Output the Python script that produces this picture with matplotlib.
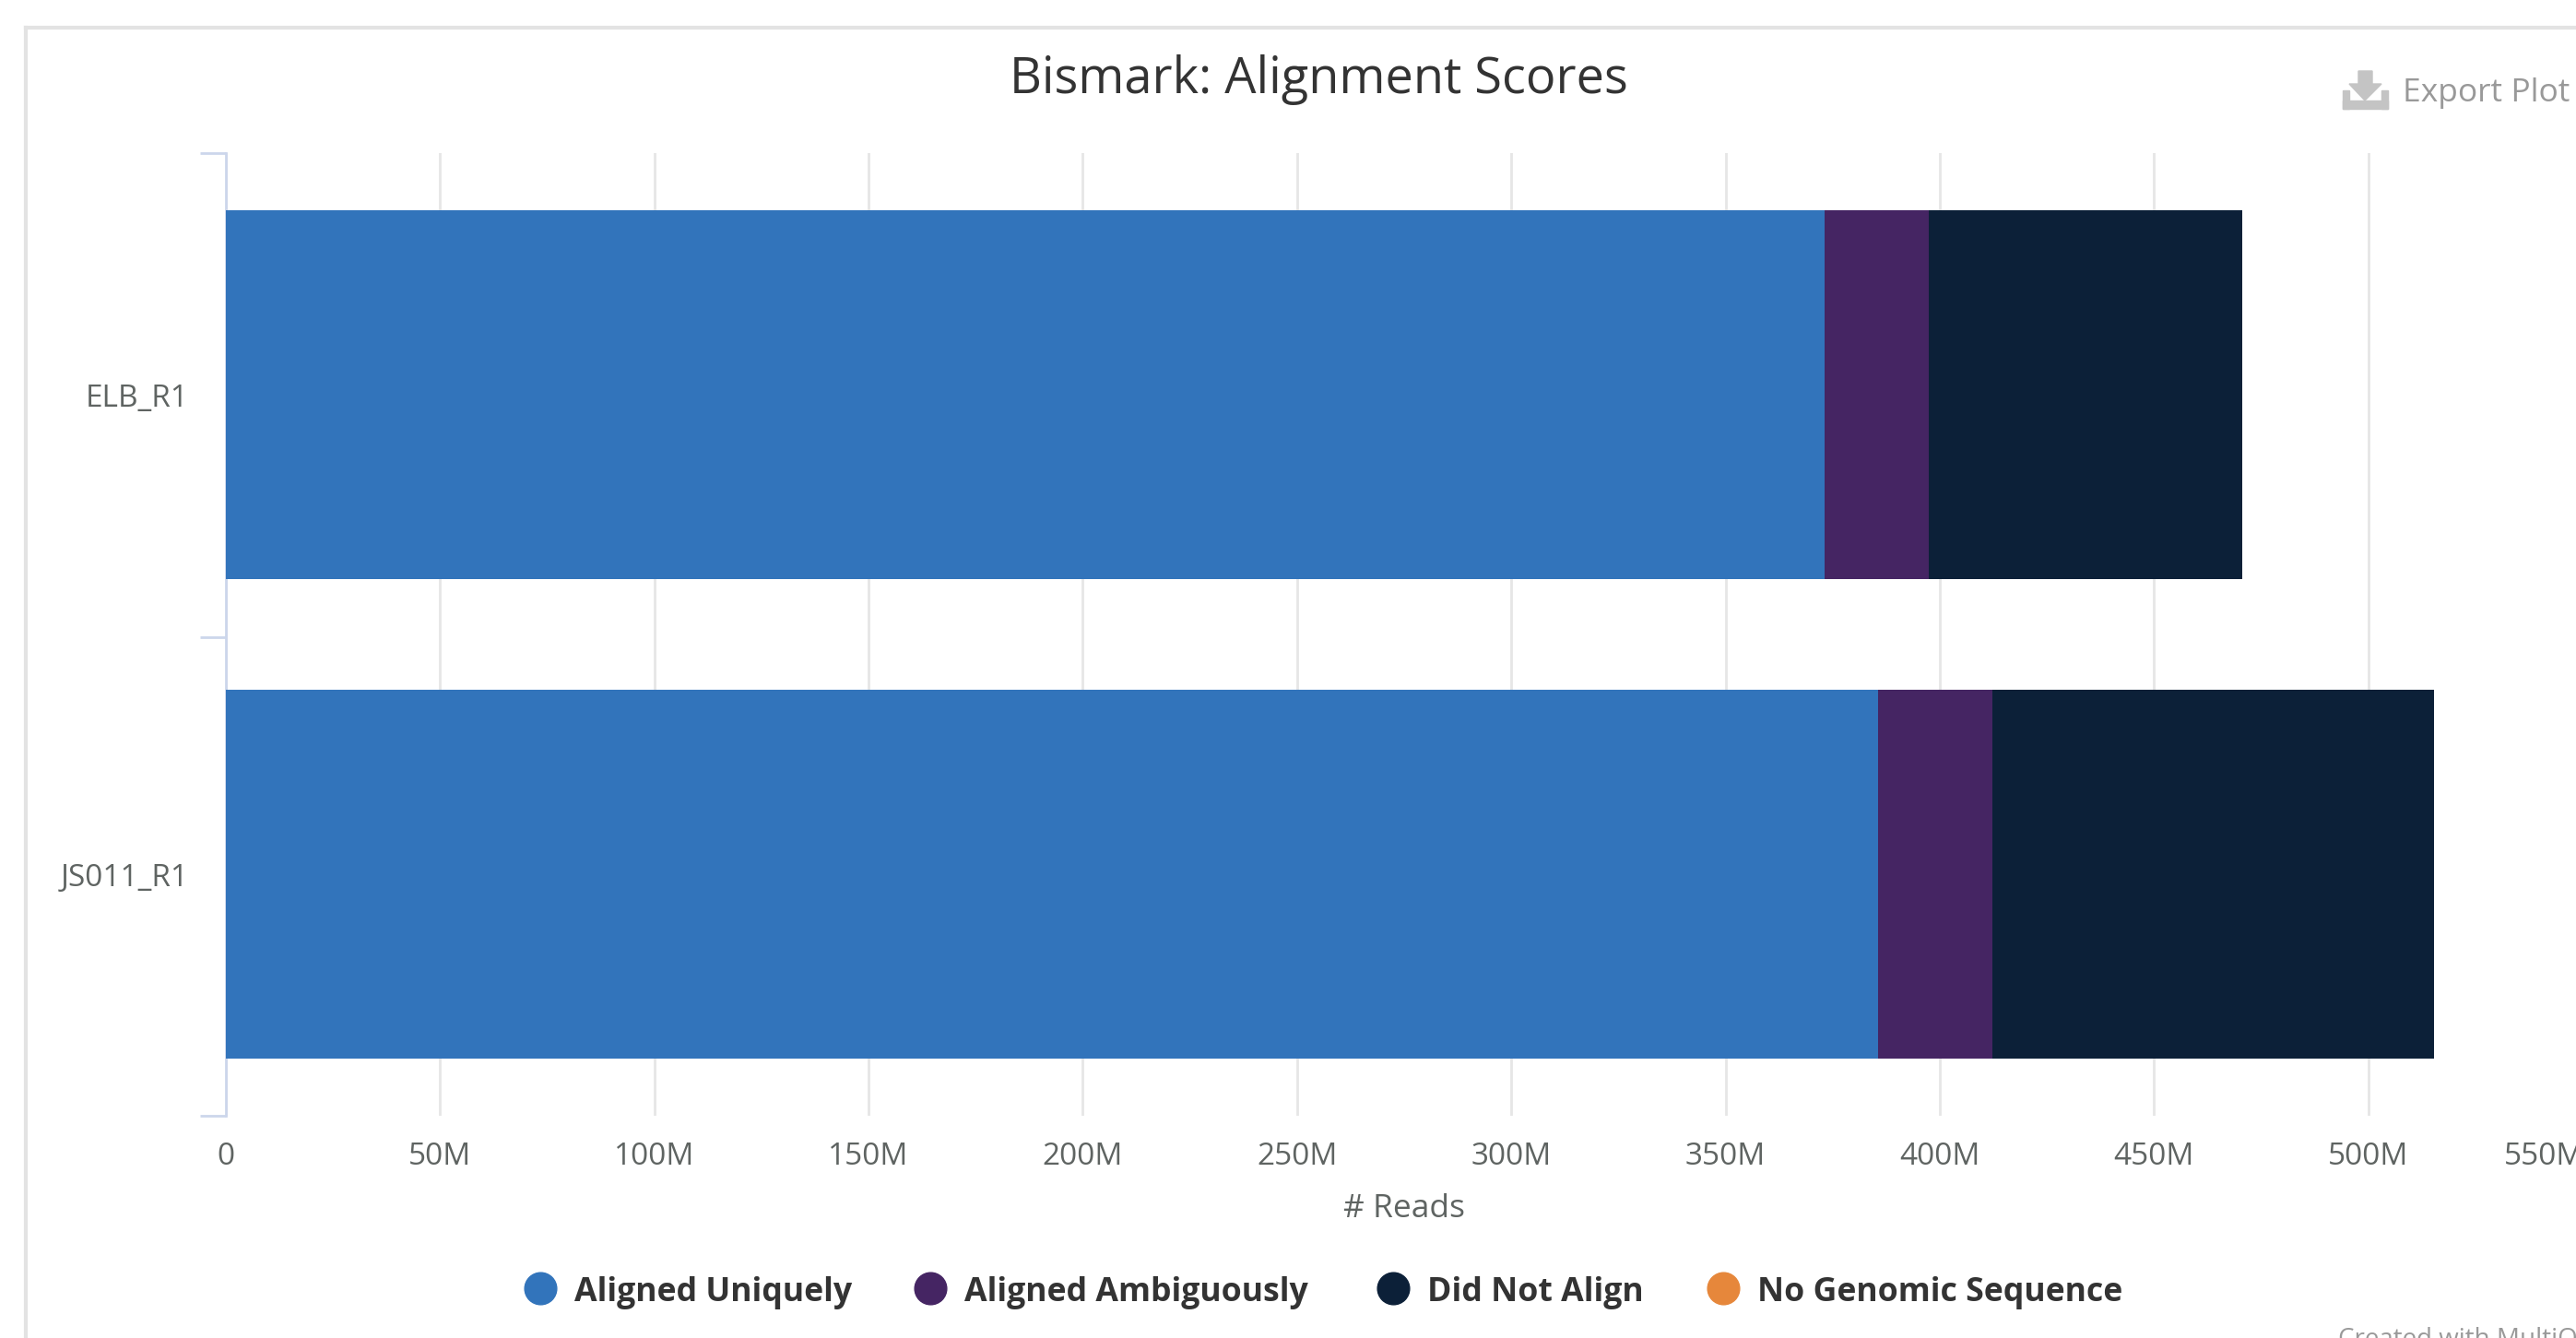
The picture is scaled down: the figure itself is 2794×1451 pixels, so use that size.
import matplotlib
matplotlib.use("Agg")
import matplotlib.pyplot as plt
from matplotlib.lines import Line2D
from matplotlib.patches import Polygon, Rectangle
from matplotlib.transforms import ScaledTranslation

W, H = 2794, 1451

samples = ["ELB_R1", "JS011_R1"]
aligned_uniquely = [373.1, 385.6]
aligned_ambiguously = [24.3, 26.6]
did_not_align = [73.3, 103.1]
series_names = ["Aligned Uniquely", "Aligned Ambiguously", "Did Not Align", "No Genomic Sequence"]
series_colors = ["#3274BB", "#452563", "#0C2038", "#E6873B"]
x_ticks = [0, 50, 100, 150, 200, 250, 300, 350, 400, 450, 500, 550]
x_labels = ["0", "50M", "100M", "150M", "200M", "250M", "300M", "350M", "400M", "450M", "500M", "550M"]

plt.rcParams["font.family"] = ["Open Sans", "DejaVu Sans"]


def fx(px):
    return px / W


def fy(py):
    return 1 - py / H


fig = plt.figure(figsize=(W / 100, H / 100), dpi=100, facecolor="white")

# оси шире картинки: отметка 550M лежит за правым краем
left, right, top, bottom = 245, 2801, 166, 1210
ax = fig.add_axes([fx(left), fy(bottom), (right - left) / W, (bottom - top) / H])
ax.set_xlim(0, 550)
ax.set_ylim(1.504, -0.505)

ys = range(len(samples))
starts = [0, 0]
for values, color in zip([aligned_uniquely, aligned_ambiguously, did_not_align], series_colors):
    ax.barh(ys, values, left=starts, height=0.77, color=color, linewidth=0, zorder=3)
    starts = [s + v for s, v in zip(starts, values)]

ax.set_xticks(x_ticks)
ax.set_xticklabels(x_labels, fontsize=24, color="#5F6462")
ax.set_yticks(list(ys))
ax.set_yticklabels(samples, fontsize=24, color="#5F6462")
ax.set_yticks([-0.505, 0.505, 1.504], minor=True)
ax.tick_params(axis="x", length=0, pad=20)
ax.tick_params(axis="y", which="major", length=0, pad=29)
ax.tick_params(axis="y", which="minor", length=20, width=2, color="#CCD6EB")
ax.grid(axis="x", color="#E6E6E6", linewidth=2, zorder=1)
ax.set_axisbelow(True)
for name in ["top", "right", "bottom"]:
    ax.spines[name].set_visible(False)
ax.spines["left"].set_color("#CCD6EB")
ax.spines["left"].set_linewidth(2)

# подпись 550M сдвинута внутрь, как в исходнике
last = ax.get_xticklabels()[-1]
last.set_transform(last.get_transform() + ScaledTranslation(-41 / 100, 0, fig.dpi_scale_trans))

ax.set_xlabel("# Reads", fontsize=25.5, color="#5F6462")
ax.xaxis.set_label_coords((1523 - left) / (right - left), -(1294 - bottom) / (bottom - top), transform=ax.transAxes)

# рамка блока
fig.add_artist(Line2D([fx(28), fx(28)], [fy(30), 0], color="#E3E3E3", linewidth=3))
fig.add_artist(Line2D([fx(28), 1], [fy(30), fy(30)], color="#E3E3E3", linewidth=3))

fig.text(fx(1430), fy(87), "Bismark: Alignment Scores", fontsize=39, color="#333333", ha="center", va="center")

# Export Plot
gray = "#C4C4C4"
fig.add_artist(Rectangle((fx(2541), fy(118)), 49 / W, 9 / H, color=gray, transform=fig.transFigure))
fig.add_artist(Rectangle((fx(2541), fy(118)), 7 / W, 20 / H, color=gray, transform=fig.transFigure))
fig.add_artist(Rectangle((fx(2583), fy(118)), 7 / W, 20 / H, color=gray, transform=fig.transFigure))
fig.add_artist(Polygon([(fx(2558), fy(77)), (fx(2573), fy(77)), (fx(2573), fy(91)), (fx(2583), fy(91)),
                        (fx(2565), fy(109)), (fx(2548), fy(91)), (fx(2558), fy(91))],
                       closed=True, color=gray, transform=fig.transFigure))
fig.text(fx(2606), fy(101), "Export Plot", fontsize=25.5, color="#999999", ha="left", va="center")

# легенда
legend_marks = [586, 1009, 1511, 1869]
legend_texts = [623, 1046, 1548, 1906]
for name, color, mx, tx in zip(series_names, series_colors, legend_marks, legend_texts):
    fig.add_artist(Line2D([fx(mx)], [fy(1397)], marker="o", markersize=25, color=color, linewidth=0))
    fig.text(fx(tx), fy(1402), name, fontsize=25.7, fontweight="bold", color="#333333", ha="left", va="center")

fig.text(fx(2536), fy(1453), "Created with MultiQC", fontsize=20, color="#999999", ha="left", va="center")

fig.savefig("out.png", dpi=100)
